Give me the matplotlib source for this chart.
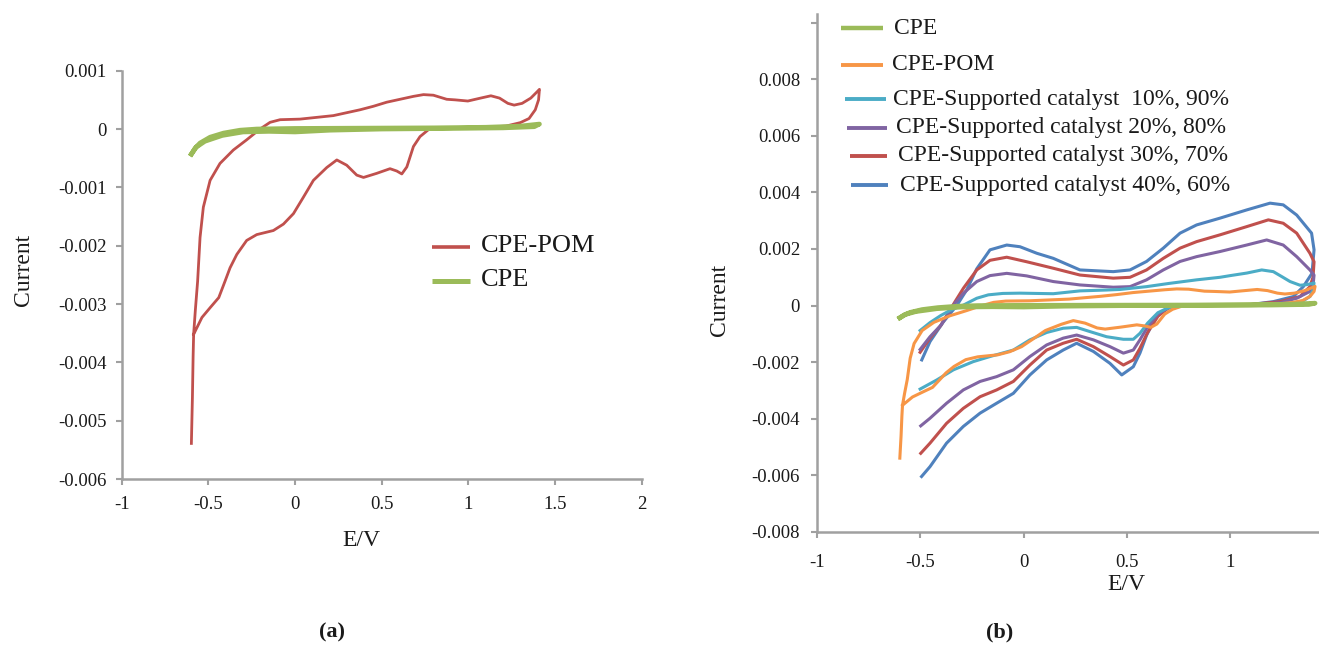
import matplotlib
matplotlib.use("Agg")
import matplotlib.pyplot as plt
from matplotlib.lines import Line2D
import numpy as np

plt.rcParams['font.family'] = ['Liberation Serif', 'DejaVu Serif']

# ---------------- data: potential E (V) and current (mA) ----------------
# bare carbon paste electrode
cpe_e = [-0.598, -0.577, -0.548, -0.49, -0.413, -0.317, -0.221, 0.0, 0.4, 0.8, 1.1, 1.3, 1.41,
         1.38, 1.2, 0.9, 0.5, 0.2, 0.0, -0.15, -0.3, -0.42, -0.52, -0.57, -0.598]
cpe_i = [-0.43, -0.33, -0.24, -0.14, -0.07, -0.02, 0.0, 0.01, 0.015, 0.02, 0.03, 0.05, 0.085,
         0.04, 0.02, 0.01, 0.0, -0.02, -0.05, -0.04, -0.05, -0.11, -0.21, -0.31, -0.43]

# polyoxometalate modified electrode
pom_e = [-0.598, -0.592, -0.588, -0.585, -0.575, -0.562, -0.548, -0.529, -0.49, -0.433, -0.356,
         -0.279, -0.202, -0.144, -0.086, 0.029, 0.125, 0.221, 0.298, 0.375, 0.452, 0.529, 0.606,
         0.683, 0.741, 0.798, 0.875, 0.924, 0.997, 1.07, 1.13, 1.18, 1.228, 1.264, 1.31, 1.36,
         1.397, 1.41,
         1.405, 1.386, 1.35, 1.30, 1.216, 1.094, 0.97, 0.85, 0.798, 0.77, 0.721, 0.683, 0.645,
         0.616, 0.587, 0.548, 0.471, 0.395, 0.356, 0.298, 0.241, 0.183, 0.106, 0.048, -0.009,
         -0.067, -0.125, -0.221, -0.279, -0.336, -0.375, -0.404, -0.44, -0.489, -0.537, -0.585]
pom_i = [-5.39, -4.6, -3.9, -3.52, -3.1, -2.61, -1.86, -1.34, -0.88, -0.59, -0.36,
         -0.185, 0.0, 0.115, 0.16, 0.17, 0.20, 0.23, 0.28, 0.33, 0.39, 0.46, 0.51,
         0.56, 0.59, 0.58, 0.51, 0.50, 0.48, 0.53, 0.57, 0.53, 0.44, 0.41, 0.44, 0.53,
         0.64, 0.68,
         0.50, 0.33, 0.18, 0.11, 0.05, 0.03, 0.02, 0.01, 0.0, -0.01, -0.13, -0.30, -0.65,
         -0.77, -0.72, -0.68, -0.76, -0.83, -0.79, -0.62, -0.53, -0.66, -0.88, -1.17, -1.45,
         -1.63, -1.74, -1.81, -1.91, -2.15, -2.38, -2.61, -2.89, -3.06, -3.23, -3.52]

# supported catalyst electrodes (catalyst %, support %)
sc10_e = [-0.50, -0.452, -0.40, -0.35, -0.29, -0.226, -0.17, -0.10, -0.017, 0.06, 0.144, 0.273,
          0.40, 0.467, 0.595, 0.70, 0.837, 0.95, 1.0, 1.08, 1.152, 1.208, 1.25, 1.289, 1.337,
          1.37, 1.405,
          1.40, 1.385, 1.35, 1.305, 1.2, 1.0, 0.80, 0.757, 0.70, 0.65, 0.60, 0.563, 0.531,
          0.483, 0.402, 0.322, 0.257, 0.192, 0.112, 0.031, -0.049, -0.162, -0.243, -0.339,
          -0.42, -0.50]
sc10_i = [-0.88, -0.60, -0.35, -0.15, 0.02, 0.26, 0.38, 0.43, 0.44, 0.43, 0.42, 0.52,
          0.55, 0.57, 0.67, 0.78, 0.91, 1.0, 1.06, 1.15, 1.26, 1.20, 1.02, 0.85, 0.72,
          0.74, 0.80,
          0.55, 0.32, 0.16, 0.10, 0.03, 0.01, 0.0, -0.03, -0.08, -0.25, -0.62, -0.98, -1.19,
          -1.19, -1.10, -0.92, -0.77, -0.80, -0.95, -1.21, -1.57, -1.80, -1.98, -2.27,
          -2.63, -2.95]

sc20_e = [-0.50, -0.452, -0.40, -0.355, -0.33, -0.29, -0.226, -0.162, -0.081, 0.015, 0.144,
          0.273, 0.434, 0.515, 0.595, 0.676, 0.757, 0.837, 0.95, 1.079, 1.176, 1.256, 1.321,
          1.385, 1.405,
          1.40, 1.385, 1.321, 1.24, 1.1, 0.9, 0.76, 0.70, 0.65, 0.60, 0.563, 0.531, 0.483,
          0.418, 0.338, 0.257, 0.192, 0.112, 0.031, -0.049, -0.13, -0.21, -0.291, -0.372,
          -0.452, -0.497]
sc20_i = [-1.55, -1.10, -0.70, -0.20, 0.10, 0.44, 0.85, 1.06, 1.14, 1.05, 0.85,
          0.73, 0.65, 0.67, 0.91, 1.26, 1.56, 1.73, 1.91, 2.14, 2.32, 2.14, 1.73,
          1.26, 1.08,
          0.70, 0.50, 0.26, 0.10, 0.03, 0.01, 0.0, -0.07, -0.30, -0.75, -1.21, -1.57, -1.68,
          -1.45, -1.21, -1.04, -1.15, -1.39, -1.80, -2.27, -2.51, -2.68, -2.98, -3.45,
          -3.98, -4.25]

sc30_e = [-0.50, -0.452, -0.40, -0.355, -0.33, -0.29, -0.226, -0.162, -0.081, 0.015, 0.144,
          0.273, 0.434, 0.515, 0.595, 0.676, 0.757, 0.837, 0.95, 1.079, 1.184, 1.256, 1.321,
          1.385, 1.405,
          1.40, 1.385, 1.337, 1.24, 1.1, 0.9, 0.76, 0.70, 0.65, 0.60, 0.563, 0.531, 0.483,
          0.418, 0.338, 0.257, 0.192, 0.112, 0.031, -0.049, -0.13, -0.21, -0.291, -0.372,
          -0.452, -0.497]
sc30_i = [-1.65, -1.15, -0.70, -0.15, 0.15, 0.62, 1.26, 1.60, 1.71, 1.55, 1.32,
          1.08, 0.97, 1.00, 1.26, 1.67, 2.03, 2.26, 2.50, 2.79, 3.03, 2.91, 2.56,
          1.85, 1.55,
          1.0, 0.67, 0.32, 0.14, 0.04, 0.01, 0.0, -0.08, -0.38, -0.95, -1.51, -1.92, -2.10,
          -1.80, -1.45, -1.19, -1.33, -1.57, -2.10, -2.68, -2.98, -3.22, -3.63, -4.16,
          -4.86, -5.22]

sc40_e = [-0.492, -0.452, -0.388, -0.323, -0.275, -0.226, -0.162, -0.081, -0.017, 0.064,
          0.144, 0.273, 0.434, 0.515, 0.595, 0.676, 0.757, 0.837, 0.95, 1.079, 1.192, 1.256,
          1.321, 1.393, 1.405,
          1.395, 1.353, 1.305, 1.208, 1.079, 0.76, 0.70, 0.644, 0.595, 0.563, 0.531, 0.475,
          0.418, 0.338, 0.257, 0.192, 0.112, 0.031, -0.049, -0.13, -0.21, -0.291, -0.372,
          -0.452, -0.493]
sc40_i = [-1.92, -1.27, -0.58, 0.0, 0.55, 1.30, 1.97, 2.14, 2.08, 1.85,
          1.67, 1.26, 1.20, 1.26, 1.56, 2.03, 2.56, 2.85, 3.09, 3.38, 3.62, 3.56,
          3.20, 2.56, 1.97,
          1.14, 0.67, 0.32, 0.14, 0.02, 0.0, -0.09, -0.35, -1.05, -1.68, -2.16, -2.45,
          -2.04, -1.62, -1.33, -1.57, -1.92, -2.45, -3.10, -3.45, -3.80, -4.27, -4.86,
          -5.69, -6.04]

labels_b = ["CPE", "CPE-POM",
            "CPE-Supported catalyst  10%, 90%",
            "CPE-Supported catalyst 20%, 80%",
            "CPE-Supported catalyst 30%, 70%",
            "CPE-Supported catalyst 40%, 60%"]

xticks_a = [-1, -0.5, 0, 0.5, 1, 1.5, 2]
xticklabels_a = ["-1", "-0.5", "0", "0.5", "1", "1.5", "2"]
yticks_a = [0.001, 0, -0.001, -0.002, -0.003, -0.004, -0.005, -0.006]
yticklabels_a = ["0.001", "0", "-0.001", "-0.002", "-0.003", "-0.004", "-0.005", "-0.006"]
xticks_b = [-1, -0.5, 0, 0.5, 1]
xticklabels_b = ["-1", "-0.5", "0", "0.5", "1"]
yticks_b = [0.01, 0.008, 0.006, 0.004, 0.002, 0, -0.002, -0.004, -0.006, -0.008]
yticklabels_b = ["", "0.008", "0.006", "0.004", "0.002", "0", "-0.002", "-0.004", "-0.006", "-0.008"]

# ---------------- styling ----------------
W, H = 1319, 646
C_GREEN = "#9BBB59"
C_RED = "#C0504D"
C_ORANGE = "#F79646"
C_TEAL = "#4BACC6"
C_PURPLE = "#8064A2"
C_BLUE = "#4F81BD"
AXIS_GREY = "#a0a0a0"
TXT = "#1a1a1a"


def amps(ma):
    return np.asarray(ma) * 1e-3


def style_axes(ax, xpad, ypad):
    for side in ("top", "right"):
        ax.spines[side].set_visible(False)
    for side in ("left", "bottom"):
        ax.spines[side].set_color(AXIS_GREY)
        ax.spines[side].set_linewidth(1.8)
    ax.tick_params(axis="both", direction="out", length=4, width=1.5,
                   color=AXIS_GREY, labelcolor=TXT, labelsize=13.5)
    ax.tick_params(axis="x", pad=xpad)
    ax.tick_params(axis="y", pad=ypad)
    ax.patch.set_alpha(0)


def fx(px):
    return px / W


def fy(py):
    return 1 - py / H


fig = plt.figure(figsize=(W / 100, H / 100), dpi=100)

# ---------------- panel (a) ----------------
ax_a = fig.add_axes([fx(121.7), fy(479), (641.7 - 121.7) / W, (479 - 70.7) / H])
ax_a.plot(pom_e, amps(pom_i), color=C_RED, lw=2.0, solid_joinstyle="round", zorder=2)
ax_a.plot(cpe_e, amps(cpe_i), color=C_GREEN, lw=3.4, solid_joinstyle="round", zorder=3)
ax_a.set_xlim(-1, 2)
ax_a.set_ylim(-0.006, 0.001)
ax_a.set_xticks(xticks_a)
ax_a.set_xticklabels(xticklabels_a)
ax_a.set_yticks(yticks_a)
ax_a.set_yticklabels(yticklabels_a)
style_axes(ax_a, xpad=8, ypad=7)

# legend of panel (a)
for (label, color, lw), ypx in zip([("CPE-POM", C_RED, 2.6), ("CPE", C_GREEN, 3.6)], [246.5, 280.5]):
    fig.add_artist(Line2D([fx(432), fx(470)], [fy(ypx), fy(ypx)], color=color, lw=lw,
                          solid_capstyle="butt"))
    fig.text(fx(481), fy(ypx), label, fontsize=19, color=TXT, va="center", ha="left")

fig.text(fx(24), fy(270), "Current", rotation=90, fontsize=17, color=TXT, ha="center", va="center")
fig.text(fx(361), fy(540), "E/V", fontsize=17, color=TXT, ha="center", va="center")
fig.text(fx(332), fy(632), "(a)", fontsize=16, fontweight="bold", color=TXT, ha="center", va="center")

# ---------------- panel (b) ----------------
x_right = (W - 816.7) / 206.8 - 1
y_top = -0.008 + (532 - 14) / 28.3 * 1e-3
ax_b = fig.add_axes([fx(816.7), fy(532), (W - 816.7) / W, (532 - 14) / H])
series_b = [
    (cpe_e, cpe_i, C_GREEN, 3.4, 7),
    (pom_e, pom_i, C_ORANGE, 2.2, 6),
    (sc10_e, sc10_i, C_TEAL, 2.2, 5),
    (sc20_e, sc20_i, C_PURPLE, 2.2, 4),
    (sc30_e, sc30_i, C_RED, 2.2, 3),
    (sc40_e, sc40_i, C_BLUE, 2.2, 2),
]
for e, i, color, lw, z in series_b:
    ax_b.plot(e, amps(i), color=color, lw=lw, solid_joinstyle="round", zorder=z)
ax_b.set_xlim(-1, x_right)
ax_b.set_ylim(-0.008, y_top)
ax_b.set_xticks(xticks_b)
ax_b.set_xticklabels(xticklabels_b)
ax_b.set_yticks(yticks_b)
ax_b.set_yticklabels(yticklabels_b)
style_axes(ax_b, xpad=12, ypad=8)

# legend of panel (b)
legend_rows = [(841, 883, 894, 28), (841, 883, 892, 65), (845, 886, 893, 99),
               (847, 887, 896, 128), (850, 887, 898, 156), (851, 888, 900, 185)]
for (x0, x1, xt, ypx), label, (_, _, color, _, _) in zip(legend_rows, labels_b, series_b):
    fig.add_artist(Line2D([fx(x0), fx(x1)], [fy(ypx), fy(ypx)], color=color,
                          lw=3.2 if color == C_GREEN else 2.8, solid_capstyle="butt"))
    fig.text(fx(xt), fy(ypx), label, fontsize=17, color=TXT, va="center", ha="left")

fig.text(fx(719), fy(300), "Current", rotation=90, fontsize=17, color=TXT, ha="center", va="center")
fig.text(fx(1126), fy(585), "E/V", fontsize=17, color=TXT, ha="center", va="center")
fig.text(fx(1000), fy(632), "(b)", fontsize=16, fontweight="bold", color=TXT, ha="center", va="center")

fig.savefig("out.png", dpi=100, facecolor="white")
